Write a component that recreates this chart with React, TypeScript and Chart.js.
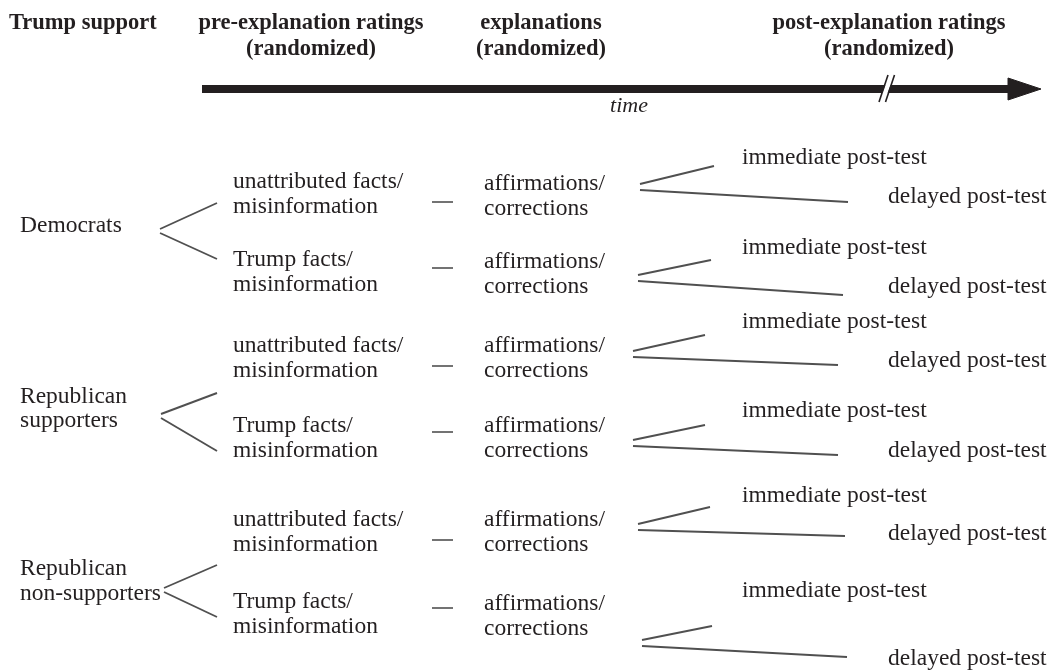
import React, { useEffect, useRef } from "react";
import { Chart, registerables } from "chart.js";
Chart.register(...registerables);

// ---------- content ----------
const headers = ["Trump support", "pre-explanation ratings", "explanations", "post-explanation ratings"];
const headerSub = "(randomized)";
const timeLabel = "time";
const groups = [["Democrats"], ["Republican", "supporters"], ["Republican", "non-supporters"]];
const conditions = [["unattributed facts/", "misinformation"], ["Trump facts/", "misinformation"]];
const explanation = ["affirmations/", "corrections"];
const postTests = ["immediate post-test", "delayed post-test"];

// ---------- layout (pixel space of the 1055x672 figure) ----------
const W = 1055;
const H = 672;
const INK = "#231f20";
const GREY = "#505050";
const SERIF = "'Liberation Serif', 'Times New Roman', serif";
const BODY_PX = 23.5;
const HEAD_PX = 22.5;
const LINE_GAP = 25;

const headerX = [9, 311, 541, 889];
const headerY = [23, 49];
const timeX = 629;
const timeY = 106;
const arrowY = 89;
const arrowStart = 202;
const arrowBase = 1008;
const arrowTip = 1041;
const arrowHalf = 11;
const breakX = 883;

const groupX = 20;
const groupY = [[226], [397, 421], [569, 594]];
const branchVX = [160, 161, 164];
const branchEndX = 217;
const branchV = [231, 416, 590];
const branchUp = [203, 393, 565];
const branchLo = [259, 451, 617];

const condX = 233;
const explX = 484;
const immX = 742;
const delX = 888;
const dashX = [432, 453];
const condY = [182, 260, 346, 426, 520, 602];
const explY = [184, 262, 346, 426, 520, 604];
const dashY = [202, 268, 366, 432, 540, 608];
const immY = [158, 248, 322, 411, 496, 591];
const delY = [197, 287, 361, 451, 534, 659];
const chevVX = [640, 638, 633, 633, 638, 642];
const chevVY = [187, 278, 354, 443, 527, 643];
const chevUpX = [714, 711, 705, 705, 710, 712];
const chevUpY = [166, 260, 335, 425, 507, 626];
const chevLoX = [848, 843, 838, 838, 845, 847];
const chevLoY = [202, 295, 365, 455, 536, 657];

type P = { x: number; y: number };
function seg(points: P[], color: string, width: number, order = 5, extra: any = {}) {
  return {
    data: points,
    showLine: true,
    borderColor: color,
    backgroundColor: color,
    borderWidth: width,
    pointRadius: 0,
    pointHoverRadius: 0,
    fill: false,
    tension: 0,
    borderCapStyle: "butt",
    order,
    ...extra,
  };
}

function buildDatasets() {
  const ds: any[] = [];
  // time arrow
  ds.push(seg([{ x: arrowStart, y: arrowY }, { x: arrowBase + 2, y: arrowY }], INK, 8, 9));
  ds.push(
    seg(
      [
        { x: arrowBase, y: arrowY - arrowHalf },
        { x: arrowTip, y: arrowY },
        { x: arrowBase, y: arrowY + arrowHalf },
        { x: arrowBase, y: arrowY - arrowHalf },
      ],
      INK,
      1,
      9,
      { fill: "shape" }
    )
  );
  // break marks on the arrow
  ds.push(seg([{ x: breakX - 0.5, y: arrowY + 11 }, { x: breakX + 7.5, y: arrowY - 11 }], "#ffffff", 5, 3));
  ds.push(seg([{ x: breakX - 4, y: arrowY + 13 }, { x: breakX + 5, y: arrowY - 14 }], INK, 1.6, 1));
  ds.push(seg([{ x: breakX + 2.5, y: arrowY + 13 }, { x: breakX + 11.5, y: arrowY - 14 }], INK, 1.6, 1));

  // group branches
  for (let g = 0; g < groups.length; g++) {
    ds.push(seg([{ x: branchVX[g], y: branchV[g] - 2 }, { x: branchEndX, y: branchUp[g] }], GREY, 1.9));
    ds.push(seg([{ x: branchVX[g], y: branchV[g] + 2 }, { x: branchEndX, y: branchLo[g] }], GREY, 1.9));
  }
  // blocks
  for (let b = 0; b < condY.length; b++) {
    ds.push(seg([{ x: dashX[0], y: dashY[b] }, { x: dashX[1], y: dashY[b] }], GREY, 1.6));
    ds.push(seg([{ x: chevVX[b], y: chevVY[b] - 3 }, { x: chevUpX[b], y: chevUpY[b] }], GREY, 1.9));
    ds.push(seg([{ x: chevVX[b], y: chevVY[b] + 3 }, { x: chevLoX[b], y: chevLoY[b] }], GREY, 1.9));
  }
  return ds;
}

const textPlugin = {
  id: "diagramText",
  afterDatasetsDraw(chart: any) {
    const { ctx } = chart;
    const xs = chart.scales.x;
    const ys = chart.scales.y;
    const put = (t: string, x: number, y: number, font: string, align: CanvasTextAlign = "left") => {
      ctx.font = font;
      ctx.textAlign = align;
      ctx.fillText(t, xs.getPixelForValue(x), ys.getPixelForValue(y));
    };
    ctx.save();
    ctx.fillStyle = INK;
    ctx.textBaseline = "middle";
    const bold = `bold ${HEAD_PX}px ${SERIF}`;
    const body = `${BODY_PX}px ${SERIF}`;
    // headers
    put(headers[0], headerX[0], headerY[0], bold, "left");
    for (let i = 1; i < headers.length; i++) {
      put(headers[i], headerX[i], headerY[0], bold, "center");
      put(headerSub, headerX[i], headerY[1], bold, "center");
    }
    put(timeLabel, timeX, timeY, `italic 22px ${SERIF}`, "center");
    // groups
    groups.forEach((lines, g) => lines.forEach((t, k) => put(t, groupX, groupY[g][k], body)));
    // blocks
    for (let b = 0; b < condY.length; b++) {
      const c = conditions[b % 2];
      put(c[0], condX, condY[b], body);
      put(c[1], condX, condY[b] + LINE_GAP, body);
      put(explanation[0], explX, explY[b], body);
      put(explanation[1], explX, explY[b] + LINE_GAP, body);
      put(postTests[0], immX, immY[b], body);
      put(postTests[1], delX, delY[b], body);
    }
    ctx.restore();
  },
};

export default function App() {
  const ref = useRef<HTMLCanvasElement | null>(null);
  useEffect(() => {
    document.body.style.margin = "0";
    const canvas = ref.current!;
    const chart = new Chart(canvas, {
      type: "scatter",
      data: { datasets: buildDatasets() },
      options: {
        animation: false,
        responsive: false,
        devicePixelRatio: 1,
        events: [],
        layout: { padding: 0 },
        scales: {
          x: { type: "linear", min: 0, max: W, display: false },
          y: { type: "linear", min: 0, max: H, reverse: true, display: false },
        },
        plugins: { legend: { display: false }, tooltip: { enabled: false } },
      } as any,
      plugins: [textPlugin],
    });
    return () => chart.destroy();
  }, []);
  return (
    <div style={{ width: W, height: H, background: "#ffffff" }}>
      <canvas ref={ref} width={W} height={H} style={{ display: "block" }} />
    </div>
  );
}
